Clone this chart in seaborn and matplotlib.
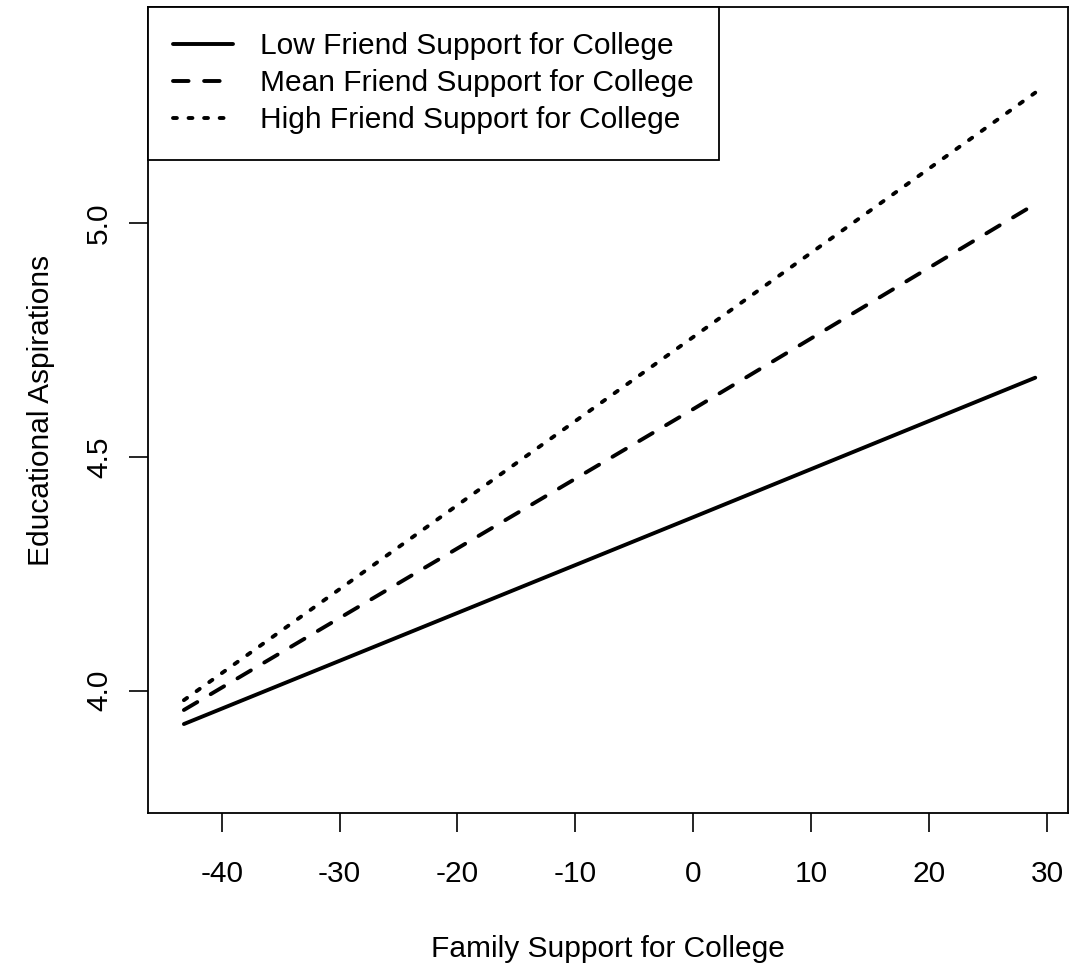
import numpy as np
import pandas as pd
import seaborn as sns
import matplotlib.pyplot as plt

# values
family_support = [-43.2, 0.0, 29.0]
low_friend = [3.929, 4.371, 4.669]
mean_friend = [3.959, 4.602, 5.040]
high_friend = [3.980, 4.756, 5.278]
series_labels = ['Low Friend Support for College',
                 'Mean Friend Support for College',
                 'High Friend Support for College']
x_ticks = [-40, -30, -20, -10, 0, 10, 20, 30]
y_ticks = [4.0, 4.5, 5.0]

sns.set_theme(style='ticks')
plt.rcParams['font.family'] = ['Liberation Sans', 'DejaVu Sans']
plt.rcParams['text.color'] = 'black'
plt.rcParams['axes.labelcolor'] = 'black'

fs = 21.5

fig = plt.figure(figsize=(10.72, 9.75), dpi=100)
ax = fig.add_axes([0.138, 0.1662, 0.8583, 0.8266])

lw = 2.8
styles = [(0, ()), (0, (4.0, 4.0)), (0, (1.0, 3.0))]
for vals, lab, ls in zip([low_friend, mean_friend, high_friend], series_labels, styles):
    sns.lineplot(x=family_support, y=vals, color='black', linewidth=lw,
                 linestyle=ls, label=lab, ax=ax, sort=True,
                 solid_capstyle='round', dash_capstyle='round')

ax.set_xlim(-46.25, 31.78)
ax.set_ylim(3.739, 5.461)
ax.set_xticks(x_ticks)
ax.set_xticklabels([str(t) for t in x_ticks])
ax.set_yticks(y_ticks)
ax.set_yticklabels([f'{t:.1f}' for t in y_ticks])

for s in ax.spines.values():
    s.set_visible(True)
    s.set_linewidth(1.3)
    s.set_color('black')

ax.tick_params(axis='both', direction='out', length=14, width=1.2,
               colors='black', labelsize=fs)
ax.tick_params(axis='x', pad=20)
ax.tick_params(axis='y', pad=11, labelrotation=90)
for t in ax.get_yticklabels():
    t.set_va('center')

ax.set_xlabel('Family Support for College', fontsize=fs, labelpad=34)
ax.set_ylabel('Educational Aspirations', fontsize=fs, labelpad=22)

leg = ax.legend(loc='upper left', bbox_to_anchor=(0, 1), borderaxespad=0,
                fontsize=fs, frameon=True, fancybox=False, framealpha=1,
                edgecolor='black', handlelength=2.0, handletextpad=0.9,
                borderpad=0.85, labelspacing=0.3)
leg.get_frame().set_linewidth(1.3)

fig.savefig('out.png', dpi=100, facecolor='white')
